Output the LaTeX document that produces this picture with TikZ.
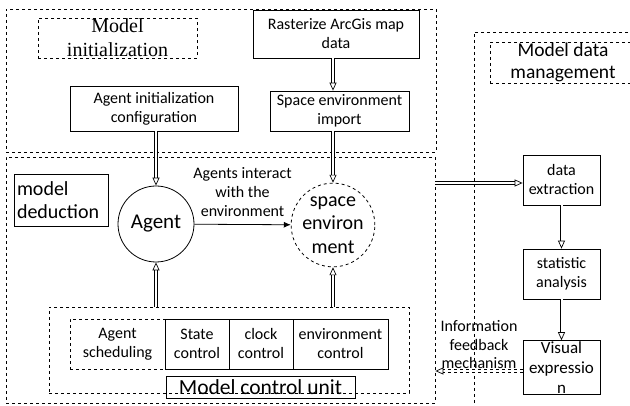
\documentclass[tikz,border=0pt]{standalone}
\usepackage{fontspec}
\setmainfont{Carlito}
\newfontfamily\timesfont{Liberation Serif}
\usetikzlibrary{arrows.meta}

\begin{document}
\begin{tikzpicture}[x=1pt,y=-1pt,line width=0.8pt]
        \tikzstyle{every node}=[inner sep=1pt, align=center, font=\fontsize{16}{19}\selectfont]
        \tikzstyle{box}=[draw, rectangle]
        \tikzstyle{group}=[draw, rectangle, dashed]
        \tikzstyle{dbl}=[double, double distance=2pt, line width=0.7pt, -{Triangle[open, length=8pt, width=7pt]}]
        \tikzstyle{big}=[font=\fontsize{20}{23.5}\selectfont]
        \useasboundingbox (0,0) rectangle (630,406);

        % model initialization
        \node[group, minimum width=430pt, minimum height=143pt] (init) at (221,80.5) {};
        \node[group, minimum width=159pt, minimum height=40pt, font=\timesfont\fontsize{20}{25}\selectfont] (initlabel) at (117.5,38) {Model\\[-1pt]initialization};
        \node[box, minimum width=166pt, minimum height=48pt] (raster) at (336,34) {Rasterize ArcGis map\\data};
        \node[box, minimum width=168pt, minimum height=45pt] (agentinit) at (154,108.5) {Agent initialization\\configuration};
        \node[box, minimum width=139pt, minimum height=40pt] (import) at (339.5,111) {Space environment\\import};

        % model deduction
        \node[group, minimum width=429pt, minimum height=246pt] (deduct) at (220.5,280) {};
        \node[box, big, align=left, minimum width=94pt, minimum height=52pt, text width=88pt] (deductlabel) at (61,200) {model\\deduction};
        \node[draw, circle, big, minimum size=76pt, font=\fontsize{21}{24}\selectfont] (agent) at (156,224) {Agent};
        \node[draw, circle, dashed, big, minimum size=76pt, inner sep=0pt] (space) at (333,225) {space\\environ\\ment};
        \draw[-{Latex[length=7pt,width=6pt]}] (agent) -- (space) node[midway, above=6pt] {Agents interact\\with the\\environment};

        % model control unit
        \node[group, minimum width=360pt, minimum height=86pt] (ctrl) at (229,350) {};
        \node[group, minimum width=95pt, minimum height=50pt] (sched) at (117.5,344.5) {Agent\\scheduling};
        \node[box, minimum width=64pt, minimum height=50pt] (state) at (197,344) {State\\control};
        \node[box, minimum width=64pt, minimum height=50pt] (clock) at (261,344) {clock\\control};
        \node[box, minimum width=95pt, minimum height=50pt] (envctrl) at (340.5,344) {environment\\control};
        \node[box, minimum width=189pt, minimum height=22pt, inner sep=0pt, font=\fontsize{21.5}{24}\selectfont] (ctrllabel) at (260.5,387) {Model control unit};

        % model data management
        \draw[dashed] (640,32) -| (474,410);
        \node[group, minimum width=146pt, minimum height=41pt, font=\fontsize{19.5}{22}\selectfont] (datalabel) at (563,62.5) {Model data\\management};
        \node[box, minimum width=77pt, minimum height=50pt] (extract) at (561.5,180) {data\\extraction};
        \node[box, minimum width=77pt, minimum height=50pt] (stats) at (561.5,274) {statistic\\analysis};
        \node[box, minimum width=77pt, minimum height=51pt, font=\fontsize{17}{20}\selectfont] (visual) at (561.5,367.5) {Visual\\expressio\\n};

        % connections
        \draw[dbl] (raster.south -| space) -- (import.north -| space);
        \draw[dbl] (agentinit.south -| agent) -- (agent.north);
        \draw[dbl] (import.south -| space) -- (space.north);
        \draw[dbl] (ctrl.north -| agent) -- (agent.south);
        \draw[dbl] (ctrl.north -| space) -- (space.south);
        \draw[dbl] (deduct.east |- 0,183) -- (extract.west |- 0,183);
        \draw[dbl] (extract) -- (stats);
        \draw[dbl] (stats) -- (visual);
        \draw[dbl, dashed] (visual.west |- 0,371) -- (deduct.east |- 0,371)
            node[midway, above=1pt, font=\fontsize{16}{18.5}\selectfont] {Information\\feedback\\mechanism};
\end{tikzpicture}
\end{document}
